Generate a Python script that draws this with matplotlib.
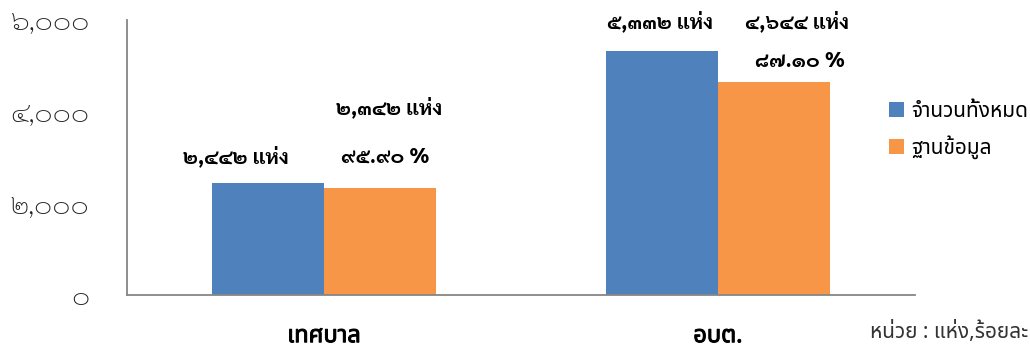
"""กราฟจำนวนแห่งทั้งหมดเทียบกับฐานข้อมูล แยกเทศบาล / อบต."""

import matplotlib
matplotlib.use("Agg")
import numpy as np
import matplotlib.pyplot as plt
import matplotlib.patheffects as pe
from matplotlib.ticker import FuncFormatter

# ข้อมูล
ประเภท = ['เทศบาล', 'อบต.']
จำนวนทั้งหมด = [2442, 5332]
ฐานข้อมูล = [2342, 4644]
ร้อยละ = [95.90, 87.10]

สีทั้งหมด = '#4F81BD'
สีฐาน = '#F79646'

เลขไทย = str.maketrans('0123456789', '๐๑๒๓๔๕๖๗๘๙')


def ไทย(s):
    return str(s).translate(เลขไทย)


plt.rcParams['font.family'] = ['Sarabun', 'DejaVu Sans']
ฟอนต์หัวกลม = ['Noto Sans Thai', 'DejaVu Sans']

fig = plt.figure(figsize=(10.3, 3.49), dpi=100)
ax = fig.add_axes([0.1233, 0.1547, 0.765, 0.788])

x = np.arange(len(ประเภท))
w = 0.285
b1 = ax.bar(x - w / 2, จำนวนทั้งหมด, w, color=สีทั้งหมด, label='จำนวนทั้งหมด')
b2 = ax.bar(x + w / 2, ฐานข้อมูล, w, color=สีฐาน, label='ฐานข้อมูล')

ax.set_xlim(-0.5, 1.5)
ax.set_ylim(0, 6000)
ax.set_yticks([0, 2000, 4000, 6000])
ax.yaxis.set_major_formatter(FuncFormatter(lambda v, p: ไทย(f'{int(v):,}')))
ax.tick_params(axis='y', length=0, pad=27, labelsize=20, labelcolor='#222222')
for t in ax.get_yticklabels():
    t.set_fontweight('light')
ax.set_xticks(x)
ax.set_xticklabels(ประเภท, family=ฟอนต์หัวกลม, fontsize=17)
# ตัวหนาเทียมด้วยเส้นขอบ เพราะฟอนต์ไม่มีน้ำหนัก bold
for t in ax.get_xticklabels():
    t.set_path_effects([pe.withStroke(linewidth=0.7, foreground='black')])
ax.tick_params(axis='x', length=0, pad=21)

for s in ['top', 'right']:
    ax.spines[s].set_visible(False)
for s in ['left', 'bottom']:
    ax.spines[s].set_color('#868686')
    ax.spines[s].set_linewidth(1.3)

# ป้ายตัวเลขบนแท่ง (ตำแหน่งวางเอง)
ตำแหน่งทั้งหมด = [(-0.223, 3011), (0.853, 5957)]
ตำแหน่งฐาน = [(0.165, 4080), (1.20, 5957)]
ตำแหน่งร้อยละ = [(0.155, 3011), (1.208, 5084)]
for i in range(len(ประเภท)):
    ax.text(*ตำแหน่งทั้งหมด[i], ไทย(f'{จำนวนทั้งหมด[i]:,}') + ' แห่ง',
            ha='center', va='center', fontsize=15, fontweight='bold')
    ax.text(*ตำแหน่งฐาน[i], ไทย(f'{ฐานข้อมูล[i]:,}') + ' แห่ง',
            ha='center', va='center', fontsize=15, fontweight='bold')
    ax.text(*ตำแหน่งร้อยละ[i], ไทย(f'{ร้อยละ[i]:.2f}') + ' %',
            ha='center', va='center', fontsize=15, fontweight='bold')

leg = ax.legend(handles=[b1, b2], loc='upper left', bbox_to_anchor=(0.845, 0.765),
                bbox_transform=fig.transFigure, frameon=False,
                prop={'family': ฟอนต์หัวกลม, 'size': 15},
                handlelength=0.7, handleheight=0.7, handletextpad=0.35,
                labelspacing=0.65)

fig.text(0.998, 0.05, 'หน่วย : แห่ง,ร้อยละ', ha='right', va='center',
         family=ฟอนต์หัวกลม, fontsize=15, color='#333333')

fig.savefig('out.png', dpi=100)
